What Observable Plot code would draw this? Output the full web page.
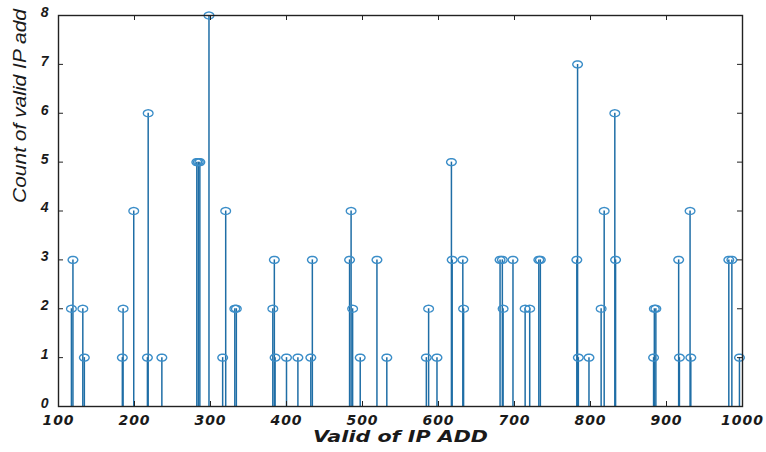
<!DOCTYPE html>
<html>
<head>
<meta charset="utf-8">
<script src="https://cdn.jsdelivr.net/npm/d3@7"></script>
<script src="https://cdn.jsdelivr.net/npm/@observablehq/plot@0.6"></script>
<style>
  body { margin: 0; background: #fff; }
  #chart svg { display: block; }
</style>
</head>
<body>
<div id="chart"></div>
<script>
// ---- data ----
const ipValues = [117, 119, 132, 134,
  184, 185, 199, 217, 218, 236,
  282, 284, 286, 298,
  316, 320, 332, 334,
  382, 384, 385, 400, 415, 432, 434,
  483, 485, 487, 497, 519, 532,
  584, 587, 598, 617, 618, 632, 633,
  681, 684, 685, 698, 714, 720, 732, 734,
  782, 783, 784, 798, 814, 818, 832, 833,
  883, 884, 886, 916, 917, 931, 932,
  982, 986, 996];
const counts = [2, 3, 2, 1,
  1, 2, 4, 1, 6, 1,
  5, 5, 5, 8,
  1, 4, 2, 2,
  2, 3, 1, 1, 1, 1, 3,
  3, 4, 2, 1, 3, 1,
  1, 2, 1, 5, 3, 3, 2,
  3, 3, 2, 3, 2, 2, 3, 3,
  3, 7, 1, 1, 2, 4, 6, 3,
  1, 2, 2, 3, 1, 4, 1,
  3, 3, 1];
const xTicks = [100, 200, 300, 400, 500, 600, 700, 800, 900, 1000];
const yTicks = [0, 1, 2, 3, 4, 5, 6, 7, 8];
const xTitle = "Valid of IP ADD";
const yTitle = "Count of valid IP add";

const data = ipValues.map((x, i) => ({x, count: counts[i]}));

// slightly flattened circle marker (the reference markers look oval)
const ellipse = {
  draw(ctx, size) {
    const r = Math.sqrt(size / Math.PI), rx = r, ry = r * 0.72, n = 32;
    ctx.moveTo(rx, 0);
    for (let i = 1; i < n; i++) {
      const a = 2 * Math.PI * i / n;
      ctx.lineTo(rx * Math.cos(a), ry * Math.sin(a));
    }
    ctx.closePath();
  }
};

const tickStyle = {stroke: "#222", strokeWidth: 1};
const chart = Plot.plot({
  width: 766,
  height: 452,
  marginLeft: 58,
  marginRight: 24,
  marginTop: 15,
  marginBottom: 46,
  x: {domain: [100, 1000]},
  y: {domain: [0, 8]},
  style: {background: "#fff"},
  marks: [
    Plot.ruleX(data, {x: "x", y1: 0, y2: "count", stroke: "#1f6ea6", strokeWidth: 1.5}),
    Plot.dot(data, {x: "x", y: "count", r: 4.8, symbol: ellipse, stroke: "#3a8dc8", strokeWidth: 1.4, fill: "none"}),
    Plot.ruleX(xTicks, {x: d => d, y1: 0, y2: 0, insetTop: -5, ...tickStyle}),
    Plot.ruleX(xTicks, {x: d => d, y1: 8, y2: 8, insetBottom: -5, ...tickStyle}),
    Plot.ruleY(yTicks, {y: d => d, x1: 100, x2: 100, insetRight: -5, ...tickStyle}),
    Plot.ruleY(yTicks, {y: d => d, x1: 1000, x2: 1000, insetLeft: -5, ...tickStyle}),
    Plot.frame({stroke: "#222", strokeWidth: 1.4}),
    Plot.axisX(xTicks, {tickSize: 0, tickPadding: 9, tickFormat: d => String(d), fontSize: 14, fontWeight: "bold",
      fontStyle: "italic", fontFamily: "DejaVu Sans", fill: "#1a1a1a", label: null}),
    Plot.axisY(yTicks, {tickSize: 0, tickPadding: 10, dy: -3, tickFormat: d => String(d), fontSize: 14, fontWeight: "bold",
      fontStyle: "italic", fontFamily: "Liberation Sans", fill: "#1a1a1a", label: null}),
    Plot.text([xTitle], {frameAnchor: "bottom", dy: 35, fontSize: 15, fontWeight: "bold", fontStyle: "italic",
      fontFamily: "DejaVu Sans", fill: "#1a1a1a"}),
    Plot.text([yTitle], {frameAnchor: "left", dx: -38, dy: -8, rotate: -90, fontSize: 18, fontStyle: "italic",
      fontWeight: 500, fontFamily: "Liberation Sans", fill: "#1a1a1a"})
  ]
});
document.getElementById("chart").appendChild(chart);

// fine-tune title widths and tick label spacing
const svg = d3.select(chart);
svg.selectAll("text").each(function () {
  const t = d3.select(this);
  if (t.text() === xTitle) t.attr("textLength", 175).attr("lengthAdjust", "spacingAndGlyphs");
  if (t.text() === yTitle) t.attr("textLength", 194).attr("lengthAdjust", "spacingAndGlyphs");
});
svg.selectAll('[aria-label="x-axis tick label"] text').style("letter-spacing", "1px");
</script>
</body>
</html>
